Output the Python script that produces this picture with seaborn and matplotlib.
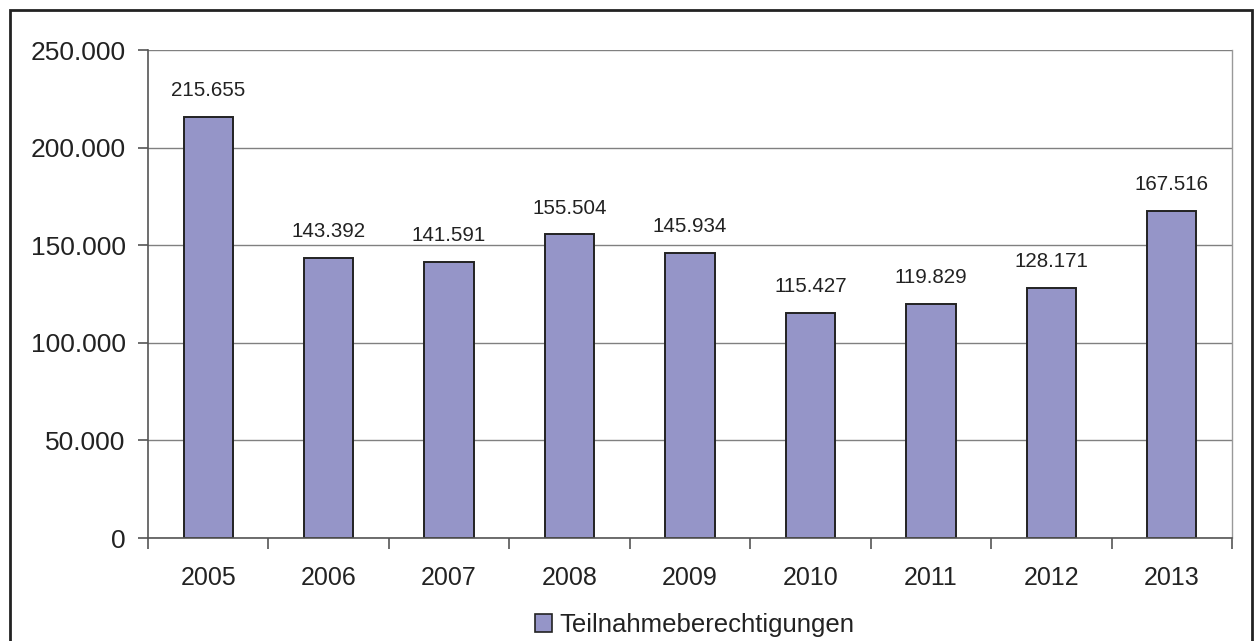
import matplotlib
matplotlib.use("Agg")
import matplotlib.pyplot as plt
import seaborn as sns
from matplotlib.patches import Patch, Rectangle
from matplotlib.ticker import FuncFormatter, FixedLocator

years = ["2005", "2006", "2007", "2008", "2009", "2010", "2011", "2012", "2013"]
values = [215655, 143392, 141591, 155504, 145934, 115427, 119829, 128171, 167516]
series_name = "Teilnahmeberechtigungen"
yticks = [0, 50000, 100000, 150000, 200000, 250000]

def de(v):
    return f"{int(v):,}".replace(",", ".")

sns.set_theme(style="white")
plt.rcParams['font.family'] = ['Liberation Sans', 'DejaVu Sans']

fig = plt.figure(figsize=(12.54, 6.41), dpi=100)
ax = fig.add_axes([148/1254, 103/641, (1232-148)/1254, (538-50)/641])

bar_color = "#9595C8"
sns.barplot(x=years, y=values, color=bar_color, width=0.41, edgecolor="#222222",
            linewidth=1.4, saturation=1, ax=ax)

ax.set_ylim(0, 250000)
ax.set_xlim(-0.5, 8.5)
ax.set_yticks(yticks)
ax.yaxis.set_major_formatter(FuncFormatter(lambda v, p: de(v)))
ax.grid(axis="y", color="#808080", linewidth=1.0)
ax.set_axisbelow(True)
ax.set_xlabel("")
ax.set_ylabel("")

ax.spines["top"].set_visible(False)
ax.spines["right"].set_visible(True)
ax.spines["right"].set_color("#999999")
ax.spines["right"].set_linewidth(1.0)
ax.spines["left"].set_color("#555555")
ax.spines["left"].set_linewidth(1.2)
ax.spines["bottom"].set_color("#555555")
ax.spines["bottom"].set_linewidth(1.2)

ax.tick_params(axis="y", which="major", direction="out", length=7, width=1.2,
               color="#555555", labelsize=19, labelcolor="#222222", pad=9, left=True)
ax.tick_params(axis="x", which="major", length=0, labelsize=18, labelcolor="#222222", pad=20)
ax.xaxis.set_minor_locator(FixedLocator([i - 0.5 for i in range(len(years) + 1)]))
ax.tick_params(axis="x", which="minor", direction="out", length=8, width=1.2,
               color="#555555", bottom=True)

for c in ax.containers:
    ax.bar_label(c, labels=[de(v) for v in values], padding=12, fontsize=14.8,
                 color="#222222")

handle = Patch(facecolor=bar_color, edgecolor="#222222", linewidth=1.2)
fig.legend([handle], [series_name], loc="center", bbox_to_anchor=(695/1254, 1 - 625/641),
           frameon=False, fontsize=18.5, handlelength=0.65, handleheight=0.65,
           handletextpad=0.3, labelcolor="#222222")

fig.patches.append(Rectangle((10/1254, -0.1), (1252-10)/1254, 1.1 - 10/641,
                             transform=fig.transFigure, fill=False,
                             edgecolor="#222222", linewidth=2, zorder=10))

fig.savefig("out.png", dpi=100, facecolor="white")
